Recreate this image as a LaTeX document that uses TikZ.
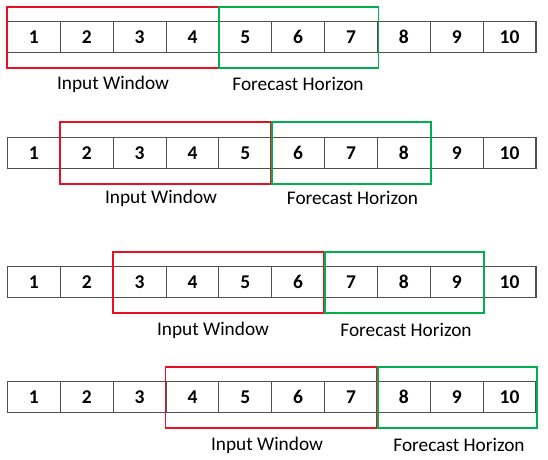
\documentclass[tikz,border=0pt]{standalone}
\usepackage{fontspec}
\setmainfont{Carlito}
\definecolor{winred}{RGB}{232,17,35}
\definecolor{hzgreen}{RGB}{0,176,80}
\definecolor{cellline}{RGB}{80,80,80}
\tikzset{
  cell/.style={draw=cellline, line width=1.1pt, minimum width=52.85pt, minimum height=31pt,
    inner sep=0pt, font=\fontsize{19.5}{22}\selectfont\bfseries},
  inbox/.style={draw=winred, line width=1.9pt},
  hzbox/.style={draw=hzgreen, line width=1.9pt},
  lbl/.style={inner sep=0pt, font=\fontsize{19.3}{22}\selectfont}
}
\begin{document}
\begin{tikzpicture}[x=1pt,y=1pt]
\useasboundingbox (0,0) rectangle (548,459);
% rows: index / center y / label y / input label x / forecast label x
\foreach \r/\cy/\ly/\ix/\fx in {1/421.8/375/113/298, 2/306.2/261/161/352.5, 3/176.8/129/213/406, 4/61.8/14/267/459}{
  \foreach \i in {1,...,10}{
    \node[cell] (r\r c\i) at ({7.5+52.85*(\i-0.5)}, \cy) {\i};
  }
  \pgfmathtruncatemacro{\s}{\r}
  \pgfmathtruncatemacro{\e}{\r+3}
  \pgfmathtruncatemacro{\fs}{\r+4}
  \pgfmathtruncatemacro{\fe}{\r+6}
  \draw[inbox] ([xshift=0pt,yshift=14.5pt]r\r c\s.north west) rectangle ([xshift=-1pt,yshift=-15pt]r\r c\e.south east);
  \draw[hzbox] ([xshift=1pt,yshift=14.5pt]r\r c\fs.north west) rectangle ([xshift=0.5pt,yshift=-15pt]r\r c\fe.south east);
  \node[lbl] (in\r) at (\ix,\ly) {Input Window};
  \node[lbl] (fh\r) at (\fx,\ly) {Forecast Horizon};
}
\end{tikzpicture}
\end{document}
